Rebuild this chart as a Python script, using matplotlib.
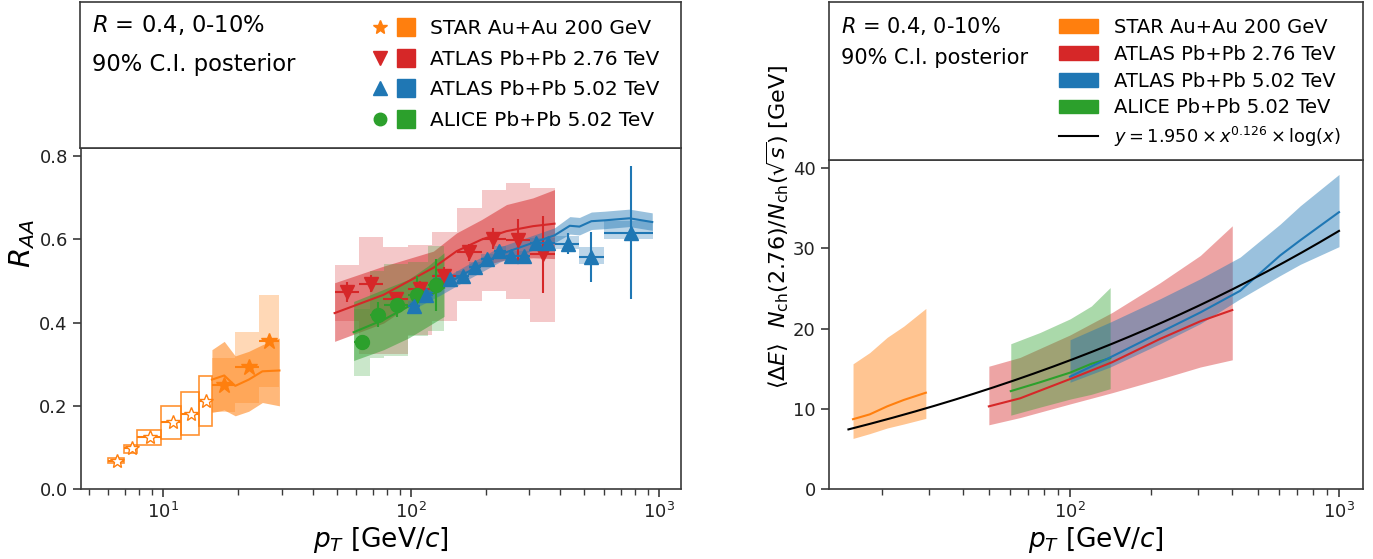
import numpy as np
import matplotlib.pyplot as plt
from matplotlib.lines import Line2D
from matplotlib.patches import Patch
from matplotlib.legend_handler import HandlerTuple

# ---------------- left panel: R_AA ----------------
# STAR Au+Au 200 GeV
star_pt = [6.5, 7.5, 8.8, 10.9, 12.9, 14.9, 17.6, 22.1, 26.7]
star_raa = [0.068, 0.099, 0.124, 0.160, 0.180, 0.212, 0.250, 0.293, 0.355]
star_edges = [6.0, 6.95, 7.85, 9.8, 11.8, 13.9, 15.7, 19.5, 24.4, 29.4]
star_sys_lo = [0.063, 0.087, 0.105, 0.121, 0.130, 0.152, 0.184, 0.206, 0.245]
star_sys_hi = [0.075, 0.107, 0.143, 0.199, 0.233, 0.271, 0.315, 0.378, 0.467]
star_n_open = 6

star_band_pt = [15.7, 17.6, 19.5, 22.1, 25.1, 29.4]
star_band_lo = [0.184, 0.190, 0.176, 0.187, 0.208, 0.200]
star_band_mid = [0.263, 0.273, 0.248, 0.263, 0.283, 0.285]
star_band_hi = [0.335, 0.355, 0.320, 0.331, 0.347, 0.363]

# ATLAS Pb+Pb 2.76 TeV
a276_pt = [55.1, 68.8, 87.0, 108.7, 136.1, 171.7, 214.4, 270.3, 340.6]
a276_raa = [0.473, 0.494, 0.458, 0.481, 0.513, 0.569, 0.602, 0.598, 0.564]
a276_stat = [0.024, 0.02, 0.015, 0.02, 0.02, 0.02, 0.025, 0.052, 0.093]
a276_edges = [49.1, 61.4, 76.9, 97.0, 121.1, 152.7, 192.6, 240.6, 303.0, 379.0]
a276_sys_lo = [0.404, 0.325, 0.325, 0.371, 0.404, 0.453, 0.475, 0.457, 0.402]
a276_sys_hi = [0.538, 0.605, 0.581, 0.586, 0.619, 0.676, 0.720, 0.735, 0.725]

a276_band_pt = [49.1, 77.4, 123.0, 152.7, 192.6, 242.6, 310.0, 379.0]
a276_band_lo = [0.355, 0.399, 0.480, 0.512, 0.536, 0.552, 0.556, 0.554]
a276_band_mid = [0.423, 0.467, 0.532, 0.572, 0.600, 0.620, 0.632, 0.638]
a276_band_hi = [0.496, 0.536, 0.572, 0.616, 0.648, 0.684, 0.700, 0.720]

# ATLAS Pb+Pb 5.02 TeV
a502_pt = [103, 115, 143.5, 162, 181, 203, 226.6, 254, 285, 318, 356, 430, 533, 773]
a502_raa = [0.439, 0.466, 0.504, 0.513, 0.533, 0.553, 0.572, 0.560, 0.560, 0.592, 0.592,
            0.590, 0.558, 0.616]
a502_stat = [0.01, 0.01, 0.01, 0.01, 0.01, 0.01, 0.01, 0.012, 0.012, 0.015, 0.015, 0.025,
             0.06, 0.16]
a502_edges = [97, 109, 122, 152, 171, 191, 215, 241, 270, 303, 340, 380, 476, 598, 944]
a502_sys_lo = [0.427, 0.454, 0.492, 0.501, 0.521, 0.541, 0.560, 0.548, 0.548, 0.580, 0.580,
               0.578, 0.540, 0.600]
a502_sys_hi = [0.451, 0.478, 0.516, 0.525, 0.545, 0.565, 0.584, 0.572, 0.572, 0.604, 0.604,
               0.608, 0.581, 0.644]

a502_band_pt = [100, 131, 167, 228, 310, 379, 437, 478, 534, 603, 760, 940]
a502_band_lo = [0.430, 0.466, 0.502, 0.546, 0.574, 0.592, 0.613, 0.611, 0.624, 0.626, 0.631, 0.622]
a502_band_mid = [0.445, 0.484, 0.520, 0.564, 0.592, 0.610, 0.633, 0.631, 0.644, 0.646, 0.651, 0.642]
a502_band_hi = [0.462, 0.502, 0.538, 0.582, 0.610, 0.628, 0.655, 0.653, 0.666, 0.668, 0.673, 0.664]

# ALICE Pb+Pb 5.02 TeV
alice_pt = [63.3, 73.2, 87.6, 106.0, 126.0]
alice_raa = [0.353, 0.419, 0.443, 0.466, 0.490]
alice_stat = [0.01, 0.03, 0.03, 0.046, 0.062]
alice_edges = [58.6, 68.4, 77.4, 97.5, 116.7, 135.8]
alice_sys_lo = [0.271, 0.315, 0.320, 0.369, 0.381]
alice_sys_hi = [0.433, 0.524, 0.541, 0.547, 0.584]

alice_band_pt = [58.6, 77.4, 97.5, 116.7, 135.8]
alice_band_lo = [0.309, 0.335, 0.363, 0.391, 0.415]
alice_band_mid = [0.377, 0.407, 0.439, 0.463, 0.484]
alice_band_hi = [0.451, 0.480, 0.504, 0.536, 0.568]

# ---------------- right panel: energy loss ----------------
r_star_pt = [15.6, 18.0, 20.9, 24.1, 29.1]
r_star_lo = [6.3, 6.9, 7.6, 8.1, 8.8]
r_star_mid = [8.7, 9.3, 10.3, 11.1, 12.0]
r_star_hi = [15.6, 17.0, 18.9, 20.3, 22.5]

r_a276_pt = [49.9, 65.2, 100, 143.4, 216, 305, 401]
r_a276_lo = [8.0, 8.9, 10.6, 12.0, 13.7, 15.2, 16.1]
r_a276_mid = [10.3, 11.3, 13.7, 15.8, 18.7, 20.9, 22.3]
r_a276_hi = [15.3, 16.4, 19.2, 22.0, 25.7, 29.1, 32.8]

r_alice_pt = [60.2, 77.3, 100, 120, 141]
r_alice_lo = [9.2, 10.2, 11.2, 11.8, 12.5]
r_alice_mid = [12.2, 13.3, 14.5, 15.6, 16.3]
r_alice_hi = [18.1, 19.5, 21.2, 22.8, 25.1]

r_a502_pt = [100, 141, 216, 305, 429, 604, 718, 1000]
r_a502_lo = [13.3, 15.2, 18.1, 20.6, 23.7, 26.6, 28.0, 30.2]
r_a502_mid = [14.0, 16.4, 19.5, 22.0, 24.7, 29.1, 31.0, 34.5]
r_a502_hi = [18.6, 20.8, 23.7, 26.2, 28.9, 33.0, 35.3, 39.2]

# fit quoted in the legend
fit_a, fit_b = 1.950, 0.126
fit_range = (15.0, 1000.0)

C_OR, C_RE, C_BL, C_GR = 'tab:orange', 'tab:red', 'tab:blue', 'tab:green'
SPINE = '#3a3a3a'

W, H = 1373, 559


def rect(x0, y0, x1, y1):
    return [x0 / W, 1 - y1 / H, (x1 - x0) / W, (y1 - y0) / H]


def style(ax):
    for s in ax.spines.values():
        s.set_color(SPINE)
        s.set_linewidth(1.2)
    ax.tick_params(which='both', colors=SPINE, labelcolor='#222222', labelsize=13)
    ax.tick_params(which='major', length=6, width=1.2)
    ax.tick_params(which='minor', length=4, width=1.0)


def boxes(ax, edges, lo, hi, **kw):
    edges = np.asarray(edges)
    lo = np.asarray(lo)
    hi = np.asarray(hi)
    ax.bar(edges[:-1], hi - lo, width=edges[1:] - edges[:-1], bottom=lo, align='edge', **kw)


def xerr_from_edges(pt, edges):
    pt = np.asarray(pt)
    e = np.asarray(edges)
    return [pt - e[:-1], e[1:] - pt]


fig = plt.figure(figsize=(13.73, 5.59), dpi=100)

# ---------- left ----------
axl = fig.add_axes(rect(81, 148, 681, 489))
style(axl)
axl.set_xscale('log')

# STAR
boxes(axl, star_edges[:star_n_open + 1], star_sys_lo[:star_n_open], star_sys_hi[:star_n_open],
      facecolor='none', edgecolor=C_OR, linewidth=1.2, alpha=0.85)
boxes(axl, star_edges[star_n_open:], star_sys_lo[star_n_open:], star_sys_hi[star_n_open:],
      color=C_OR, alpha=0.3, linewidth=1)
axl.fill_between(star_band_pt, star_band_lo, star_band_hi, color=C_OR, alpha=0.55, lw=0)
axl.plot(star_band_pt, star_band_mid, color=C_OR, lw=1.5)
sx = xerr_from_edges(star_pt, star_edges)
axl.errorbar(star_pt[:star_n_open], star_raa[:star_n_open],
             xerr=[sx[0][:star_n_open], sx[1][:star_n_open]], fmt='*', color=C_OR,
             mfc='white', mec=C_OR, ms=10, lw=1.5)
axl.errorbar(star_pt[star_n_open:], star_raa[star_n_open:],
             xerr=[sx[0][star_n_open:], sx[1][star_n_open:]], fmt='*', color=C_OR,
             ms=12, lw=1.5)

# ATLAS 2.76
boxes(axl, a276_edges, a276_sys_lo, a276_sys_hi, color=C_RE, alpha=0.25, linewidth=1)
axl.fill_between(a276_band_pt, a276_band_lo, a276_band_hi, color=C_RE, alpha=0.5, lw=0)
axl.plot(a276_band_pt, a276_band_mid, color=C_RE, lw=1.5)
axl.errorbar(a276_pt, a276_raa, xerr=xerr_from_edges(a276_pt, a276_edges), yerr=a276_stat,
             fmt='v', color=C_RE, ms=10, lw=1.5)

# ALICE
boxes(axl, alice_edges, alice_sys_lo, alice_sys_hi, color=C_GR, alpha=0.25, linewidth=1)
axl.fill_between(alice_band_pt, alice_band_lo, alice_band_hi, color=C_GR, alpha=0.5, lw=0)
axl.plot(alice_band_pt, alice_band_mid, color=C_GR, lw=1.5)
axl.errorbar(alice_pt, alice_raa, xerr=xerr_from_edges(alice_pt, alice_edges), yerr=alice_stat,
             fmt='o', color=C_GR, ms=10, lw=1.5)

# ATLAS 5.02
boxes(axl, a502_edges, a502_sys_lo, a502_sys_hi, color=C_BL, alpha=0.3, linewidth=1)
axl.fill_between(a502_band_pt, a502_band_lo, a502_band_hi, color=C_BL, alpha=0.45, lw=0)
axl.plot(a502_band_pt, a502_band_mid, color=C_BL, lw=1.5)
axl.errorbar(a502_pt, a502_raa, xerr=xerr_from_edges(a502_pt, a502_edges), yerr=a502_stat,
             fmt='^', color=C_BL, ms=10, lw=1.5)

axl.set_xlim(4.65, 1228)
axl.set_ylim(0, 0.82)
axl.set_yticks([0.0, 0.2, 0.4, 0.6, 0.8])
axl.set_xlabel(r'$p_T$ [GeV/$c$]', fontsize=19, labelpad=2)
axl.set_ylabel(r'$R_{AA}$', fontsize=21)
axl.yaxis.set_label_coords(-0.074, 0.72)

tl = fig.add_axes(rect(80, 2, 681, 148))
style(tl)
tl.set_xticks([])
tl.set_yticks([])
tl.text(0.02, 0.84, r'$R$ = 0.4, 0-10%', fontsize=16.3, transform=tl.transAxes, va='center')
tl.text(0.02, 0.57, '90% C.I. posterior', fontsize=16.3, transform=tl.transAxes, va='center')
mk = dict(ls='none')
handles_l = [
    (Line2D([], [], marker='*', color=C_OR, ms=10, **mk), Line2D([], [], marker='s', color=C_OR, ms=12.5, **mk)),
    (Line2D([], [], marker='v', color=C_RE, ms=10, **mk), Line2D([], [], marker='s', color=C_RE, ms=12.5, **mk)),
    (Line2D([], [], marker='^', color=C_BL, ms=10, **mk), Line2D([], [], marker='s', color=C_BL, ms=12.5, **mk)),
    (Line2D([], [], marker='o', color=C_GR, ms=9, **mk), Line2D([], [], marker='s', color=C_GR, ms=12.5, **mk)),
]
labels = ['STAR Au+Au 200 GeV', 'ATLAS Pb+Pb 2.76 TeV', 'ATLAS Pb+Pb 5.02 TeV',
          'ALICE Pb+Pb 5.02 TeV']
tl.legend(handles_l, labels, handler_map={tuple: HandlerTuple(ndivide=None, pad=0.5)},
          loc='upper left', bbox_to_anchor=(0.486, 0.883), frameon=False, fontsize=14.5,
          handlelength=2.1, handletextpad=0.8, labelspacing=0.58, borderpad=0,
          borderaxespad=0)

# ---------- right ----------
axr = fig.add_axes(rect(829, 160, 1363, 489))
style(axr)
axr.set_xscale('log')
for pt, lo, mid, hi, c, a in [
        (r_star_pt, r_star_lo, r_star_mid, r_star_hi, C_OR, 0.45),
        (r_a276_pt, r_a276_lo, r_a276_mid, r_a276_hi, C_RE, 0.42),
        (r_alice_pt, r_alice_lo, r_alice_mid, r_alice_hi, C_GR, 0.4),
        (r_a502_pt, r_a502_lo, r_a502_mid, r_a502_hi, C_BL, 0.45)]:
    axr.fill_between(pt, lo, hi, color=c, alpha=a, lw=0)
    axr.plot(pt, mid, color=c, lw=1.5)

fit_x = np.geomspace(fit_range[0], fit_range[1], 200)
axr.plot(fit_x, fit_a * fit_x ** fit_b * np.log(fit_x), color='black', lw=1.5)

axr.set_xlim(12.7, 1228)
axr.set_ylim(0, 41)
axr.set_yticks([0, 10, 20, 30, 40])
axr.set_xlabel(r'$p_T$ [GeV/$c$]', fontsize=19, labelpad=2)
axr.set_ylabel(r'$\langle\Delta E\rangle\ \ N_{\rm ch}(2.76)/N_{\rm ch}(\sqrt{s})$ [GeV]', fontsize=16)
axr.yaxis.set_label_coords(-0.072, 0.796)

tr = fig.add_axes(rect(829, 2, 1363, 160))
style(tr)
tr.set_xticks([])
tr.set_yticks([])
tr.text(0.022, 0.85, r'$R$ = 0.4, 0-10%', fontsize=15, transform=tr.transAxes, va='center')
tr.text(0.022, 0.645, '90% C.I. posterior', fontsize=15, transform=tr.transAxes, va='center')
handles_r = [Patch(color=C_OR), Patch(color=C_RE), Patch(color=C_BL), Patch(color=C_GR),
             Line2D([], [], color='black', lw=1.5)]
labels_r = labels + [r'$y = 1.950 \times x^{0.126} \times \log(x)$']
leg_r = tr.legend(handles_r, labels_r, loc='upper left', bbox_to_anchor=(0.431, 0.899),
                  frameon=False, fontsize=14, handlelength=2.0, handletextpad=0.8,
                  labelspacing=0.4, borderpad=0, borderaxespad=0)
leg_r.get_texts()[-1].set_fontsize(12.8)

fig.savefig('out.png', dpi=100)
